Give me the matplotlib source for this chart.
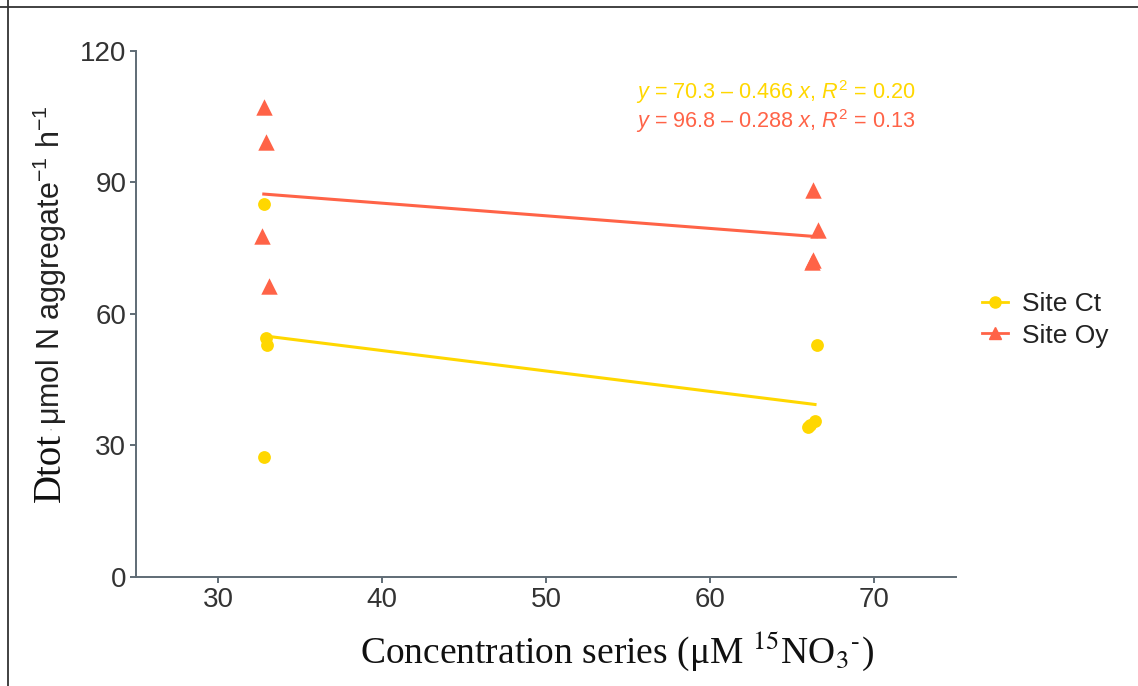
import matplotlib
matplotlib.use("Agg")
import matplotlib.pyplot as plt
from matplotlib.lines import Line2D
import numpy as np

# Data
ct_x = [32.8, 32.9, 33.0, 32.8, 66.5, 66.4, 66.0, 66.1]
ct_y = [85.1, 54.5, 52.9, 27.4, 52.9, 35.6, 34.2, 34.6]
oy_x = [32.8, 32.9, 32.7, 33.1, 66.3, 66.6, 66.2, 66.3]
oy_y = [107.2, 99.2, 77.8, 66.4, 88.3, 79.2, 71.9, 72.3]

ct_fit = (70.3, -0.466, 0.20)
oy_fit = (96.8, -0.288, 0.13)

series_names = ["Site Ct", "Site Oy"]
x_ticks = [30, 40, 50, 60, 70]
y_ticks = [0, 30, 60, 90, 120]

c_ct = "#FFD700"
c_oy = "#FF6347"
axis_col = "#5F6B75"
tick_txt = "#333333"

plt.rcParams["mathtext.fontset"] = "custom"
plt.rcParams["mathtext.rm"] = "Liberation Sans"
plt.rcParams["mathtext.it"] = "Liberation Sans:italic"

fig = plt.figure(figsize=(11.38, 6.86), dpi=100)
ax = fig.add_axes([0.1195, 0.1589, 0.7205, 0.7668])

# fitted lines across data range
for xs, fit, col in [(ct_x, ct_fit, c_ct), (oy_x, oy_fit, c_oy)]:
    xx = np.array([min(xs), max(xs)])
    ax.plot(xx, fit[0] + fit[1] * xx, color=col, lw=2.2, zorder=2, solid_capstyle="butt")

ax.scatter(ct_x, ct_y, s=85, marker="o", color=c_ct, zorder=3, linewidths=0)
ax.scatter(oy_x, oy_y, s=140, marker="^", color=c_oy, zorder=3, linewidths=0)

ax.set_xlim(25, 75)
ax.set_ylim(0, 120)
ax.set_xticks(x_ticks)
ax.set_yticks(y_ticks)
ax.tick_params(axis="both", colors=axis_col, length=4, width=1.4,
               labelsize=20, labelcolor=tick_txt, pad=3)
for lab in ax.get_xticklabels() + ax.get_yticklabels():
    lab.set_family("Liberation Sans")
for s in ["top", "right"]:
    ax.spines[s].set_visible(False)
for s in ["left", "bottom"]:
    ax.spines[s].set_color(axis_col)
    ax.spines[s].set_linewidth(1.4)

# equations
def eq(fit):
    sign = "\u2013" if fit[1] < 0 else "+"
    return r"$y$ = %.1f %s %.3f $x$, $R^2$ = %.2f" % (fit[0], sign, abs(fit[1]), fit[2])

ax.text(0.951, 0.922, eq(ct_fit), transform=ax.transAxes, color=c_ct, fontsize=15.6,
        ha="right", va="center", family="Liberation Sans")
ax.text(0.951, 0.866, eq(oy_fit), transform=ax.transAxes, color=c_oy, fontsize=15.6,
        ha="right", va="center", family="Liberation Sans")

# x label (serif)
xl = fig.text(0.542, 0.052, r"Concentration series (μM $^{15}$NO$_3$$^{\text{-}}$)", ha="center", va="center",
              fontsize=27, family="Liberation Serif", color="#111111")
xl.set_math_fontfamily("stix")

# y label: serif "Dtot" + sans remainder
fig.text(0.044, 1 - 468 / 686, "Dtot", rotation=90, ha="center", va="center",
         fontsize=28, family="Liberation Serif", color="#111111")
fig.text(0.0445, 1 - 428 / 686, "·", rotation=90, ha="center", va="center",
         fontsize=10, family="Liberation Sans", color="#bbbbbb")
fig.text(0.044, 1 - 265 / 686, r"μmol N aggregate$^{-1}$ h$^{-1}$", rotation=90,
         ha="center", va="center", fontsize=22, family="Liberation Sans", color="#222222")

# legend
handles = [Line2D([0], [0], color=c_ct, lw=2, marker="o", markersize=8),
           Line2D([0], [0], color=c_oy, lw=2, marker="^", markersize=9)]
leg = fig.legend(handles, series_names, loc="center left", bbox_to_anchor=(0.842, 1 - 320 / 686),
                 frameon=False, handlelength=1.0, handletextpad=0.5,
                 labelspacing=0.28, prop={"family": "Liberation Sans", "size": 19})
for t in leg.get_texts():
    t.set_color("#222222")

# figure border (top and left)
fig.add_artist(Line2D([0, 1], [1 - 6.5 / 686] * 2, transform=fig.transFigure, color="#333333", lw=1.3))
fig.add_artist(Line2D([7.5 / 1138] * 2, [0, 1], transform=fig.transFigure, color="#333333", lw=1.3))

fig.savefig("out.png", dpi=100)
